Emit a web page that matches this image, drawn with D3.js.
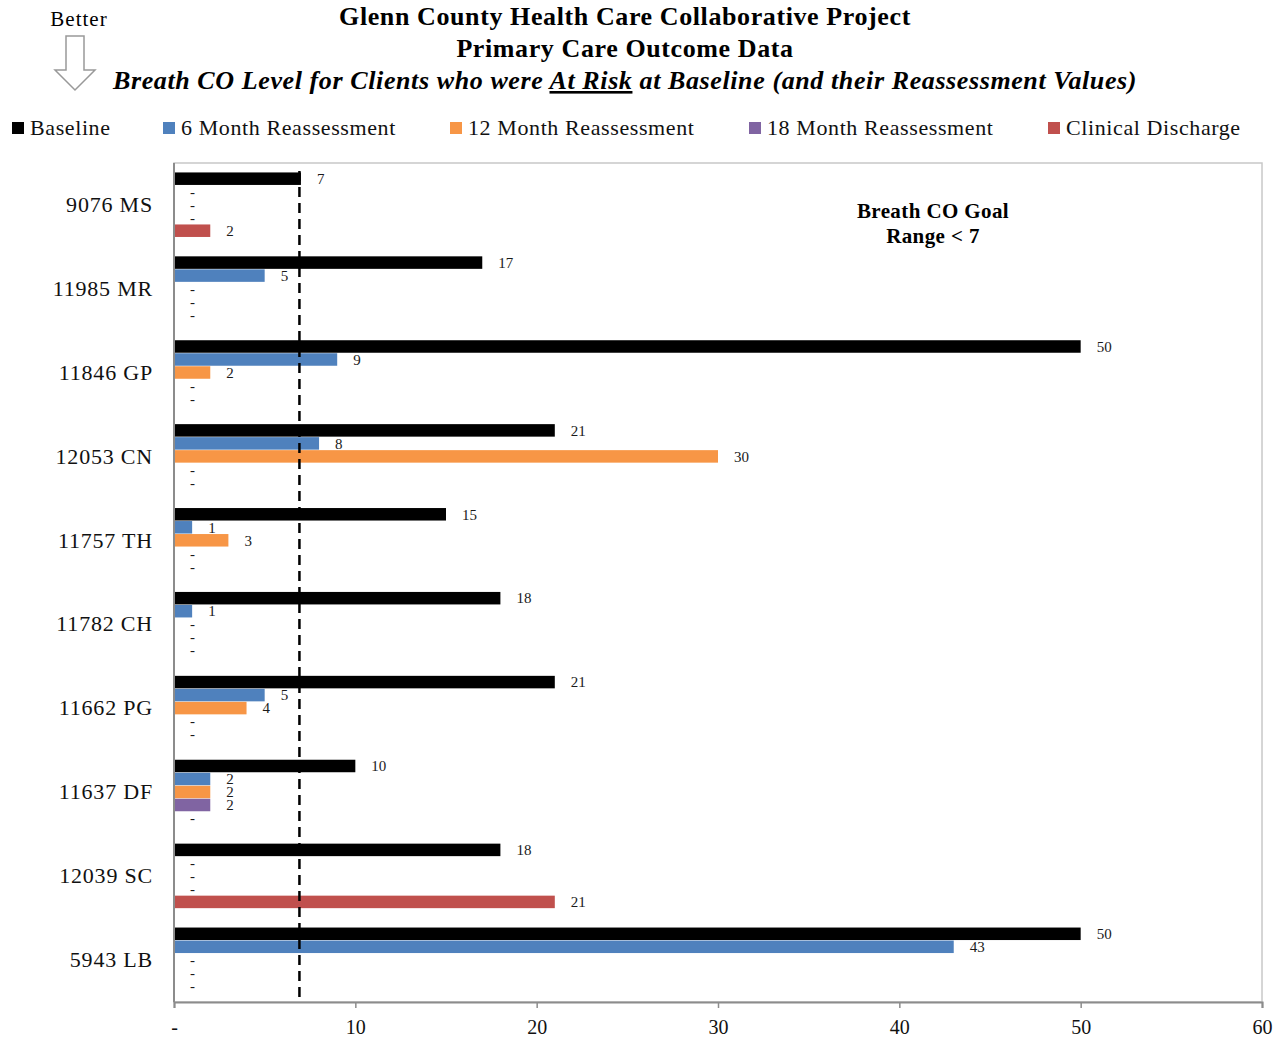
<!DOCTYPE html>
<html><head><meta charset="utf-8">
<script src="https://cdn.jsdelivr.net/npm/d3@7"></script>
<style>body{margin:0;background:#fff;} text{font-family:"Liberation Serif","Times New Roman",serif;}</style>
</head><body>
<svg id="chart" width="1278" height="1039"></svg>
<script>
const categories = ["9076 MS","11985 MR","11846 GP","12053 CN","11757 TH","11782 CH","11662 PG","11637 DF","12039 SC","5943 LB"];
const seriesNames = ["Baseline","6 Month Reassessment","12 Month Reassessment","18 Month Reassessment","Clinical Discharge"];
const seriesColors = ["#000000","#4f81bd","#f79646","#8064a2","#c0504d"];
const baseline  = [7,17,50,21,15,18,21,10,18,50];
const month6    = [null,5,9,8,1,1,5,2,null,43];
const month12   = [null,null,2,30,3,null,4,2,null,null];
const month18   = [null,null,null,null,null,null,null,2,null,null];
const discharge = [2,null,null,null,null,null,null,null,21,null];
const xTicks = [0,10,20,30,40,50,60];
const xTickLabels = ["-","10","20","30","40","50","60"];
const goalValue = 7;

const seriesValues = [baseline, month6, month12, month18, discharge];
const svg = d3.select("#chart");
const L = 174, R = 1262, T = 163, B = 1002;

const x = d3.scaleLinear().domain([0,60]).range([L,R]);
const y0 = d3.scaleBand().domain(categories).range([T,B]).paddingInner(0.225).paddingOuter(0.1125);
const y1 = d3.scaleBand().domain(seriesNames).range([0,y0.bandwidth()]).padding(0);

// frame
svg.append("rect").attr("x",L).attr("y",T).attr("width",R-L).attr("height",B-T)
  .attr("fill","none").attr("stroke","#c8c8c8").attr("stroke-width",1.5);

// bars
categories.forEach((c,ci)=>{
  const g = svg.append("g").attr("transform",`translate(0,${y0(c)})`);
  seriesNames.forEach((s,si)=>{
    const v = seriesValues[si][ci];
    const yy = y1(s);
    if(v!==null){
      g.append("rect").attr("x",x(0)).attr("y",yy).attr("width",x(v)-x(0)).attr("height",y1.bandwidth()-0.5)
        .attr("fill",seriesColors[si]);
    }
    g.append("text").attr("x",x(v===null?0:v)+16).attr("y",yy+y1.bandwidth()/2+5)
      .attr("font-size",15).attr("fill","#1a1a1a").text(v===null?"-":v);
  });
});

// goal dashed line
svg.append("line").attr("x1",x(goalValue)-1.5).attr("x2",x(goalValue)-1.5).attr("y1",T+8).attr("y2",B)
  .attr("stroke","#000").attr("stroke-width",2.5).attr("stroke-dasharray","10,6");

// axes
const xAxis = d3.axisBottom(x).tickValues(xTicks).tickFormat((d,i)=>xTickLabels[i]).tickSize(6).tickPadding(12);
const ga = svg.append("g").attr("transform",`translate(0,${B})`).call(xAxis);
ga.select(".domain").attr("stroke","#8c8c8c").attr("stroke-width",2);
ga.selectAll(".tick line").attr("stroke","#8c8c8c").attr("stroke-width",1.5);
ga.selectAll(".tick text").attr("font-size",20).attr("fill","#111").attr("font-family","Liberation Serif, serif");

svg.append("line").attr("x1",L).attr("x2",L).attr("y1",T).attr("y2",B).attr("stroke","#8c8c8c").attr("stroke-width",2);

// category labels
svg.selectAll(".cat").data(categories).enter().append("text")
  .attr("x",153).attr("y",d=>y0(d)+y0.bandwidth()/2+7).attr("text-anchor","end")
  .attr("font-size",22).attr("letter-spacing",0.8).attr("fill","#111").text(d=>d);

// titles
const titleAttrs = sel => sel.attr("x",625).attr("text-anchor","middle").attr("font-size",26).attr("letter-spacing",0.6).attr("font-weight","bold");
svg.append("text").call(titleAttrs).attr("y",25).text("Glenn County Health Care Collaborative Project");
svg.append("text").call(titleAttrs).attr("y",57).text("Primary Care Outcome Data");
const t3 = svg.append("text").call(titleAttrs).attr("y",89).attr("font-style","italic");
t3.append("tspan").text("Breath CO Level for Clients who were ");
t3.append("tspan").attr("text-decoration","underline").text("At Risk");
t3.append("tspan").text(" at Baseline (and their Reassessment Values)");

// Better arrow
svg.append("text").attr("x",79).attr("y",26).attr("text-anchor","middle").attr("font-size",21).attr("letter-spacing",1).text("Better");
svg.append("path").attr("d","M66,36 L84,36 L84,70 L95,70 L75,90 L55,70 L66,70 Z")
  .attr("fill","#fff").attr("stroke","#999").attr("stroke-width",1.5);

// legend
const legX = [12,163,450,749,1048];
seriesNames.forEach((s,i)=>{
  svg.append("rect").attr("x",legX[i]).attr("y",122).attr("width",12).attr("height",12).attr("fill",seriesColors[i]);
  svg.append("text").attr("x",legX[i]+18).attr("y",135).attr("font-size",22).attr("letter-spacing",0.6).attr("fill","#111").text(s);
});

// goal annotation
svg.append("text").attr("x",933).attr("y",218).attr("text-anchor","middle").attr("font-size",21).attr("letter-spacing",0.4).attr("font-weight","bold").text("Breath CO Goal");
svg.append("text").attr("x",933).attr("y",243).attr("text-anchor","middle").attr("font-size",21).attr("letter-spacing",0.4).attr("font-weight","bold").text("Range < 7");
</script>
</body></html>
